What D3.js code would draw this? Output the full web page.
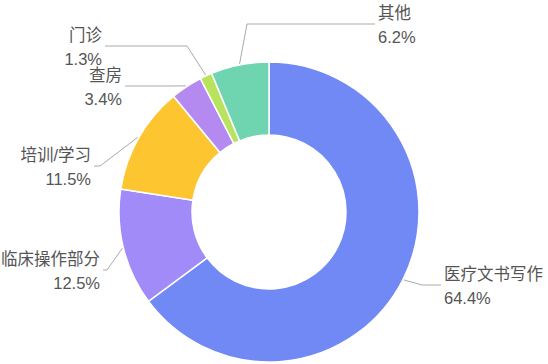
<!DOCTYPE html>
<html>
<head>
<meta charset="utf-8">
<script src="https://cdn.jsdelivr.net/npm/d3@7"></script>
<style>
  body { margin: 0; background: #fff; }
  text { font-family: "Liberation Sans", "Noto Sans CJK SC", sans-serif; font-size: 16.5px; fill: #555; }
</style>
</head>
<body>
<div id="chart"></div>
<script>
// data (clockwise from 12 o'clock)
var categories = ["医疗文书写作", "临床操作部分", "培训/学习", "查房", "门诊", "其他"];
var values = [64.4, 12.5, 11.5, 3.4, 1.3, 6.2];
var colors = ["#7189f4", "#a08bf8", "#fdc630", "#b48af0", "#b8e35c", "#6fd4b0"];

// label placement: elbow point, label center line y, end of horizontal line
var labelLayout = [
  {elbow: [422, 285], y: 285, endX: 441, side: "right"},
  {elbow: [107, 270], y: 270, endX: 103, side: "left"},
  {elbow: [100, 166], y: 166, endX: 94,  side: "left"},
  {elbow: [173, 86],  y: 86,  endX: 125, side: "left"},
  {elbow: [187, 46],  y: 46,  endX: 105, side: "left"},
  {elbow: [247, 24],  y: 24,  endX: 375, side: "right"}
];

var width = 548, height = 364;
var cx = 269, cy = 212, outerR = 150, innerR = 77;

var svg = d3.select("#chart")
  .append("svg")
    .attr("width", width)
    .attr("height", height);

var data = categories.map(function(c, i) { return {name: c, value: values[i], color: colors[i]}; });

var pie = d3.pie()
  .sort(null)
  .value(function(d) { return d.value; });

var arc = d3.arc()
  .innerRadius(innerR)
  .outerRadius(outerR);

var g = svg.append("g")
  .attr("transform", "translate(" + cx + "," + cy + ")");

var arcs = pie(data);

g.selectAll("path.slice")
  .data(arcs)
  .enter()
  .append("path")
    .attr("class", "slice")
    .attr("d", arc)
    .attr("fill", function(d) { return d.data.color; })
    .attr("stroke", "#fff")
    .attr("stroke-width", 1.5);

// leader lines + labels
arcs.forEach(function(d, i) {
  var L = labelLayout[i];
  var mid = (d.startAngle + d.endAngle) / 2;
  var sx = cx + (outerR + 1) * Math.sin(mid),
      sy = cy - (outerR + 1) * Math.cos(mid);

  svg.append("polyline")
    .attr("points", [[sx, sy], L.elbow, [L.endX, L.y]].map(function(p) { return p.join(","); }).join(" "))
    .attr("fill", "none")
    .attr("stroke", "#aaa")
    .attr("stroke-width", 1);

  var tx = L.side == "right" ? L.endX + 3 : L.endX - 3;
  var anchor = L.side == "right" ? "start" : "end";

  svg.append("text")
    .attr("x", tx)
    .attr("y", L.y - 5)
    .attr("text-anchor", anchor)
    .text(d.data.name);

  svg.append("text")
    .attr("x", tx)
    .attr("y", L.y + 18.5)
    .attr("text-anchor", anchor)
    .text(d.data.value.toFixed(1) + "%");
});
</script>
</body>
</html>
